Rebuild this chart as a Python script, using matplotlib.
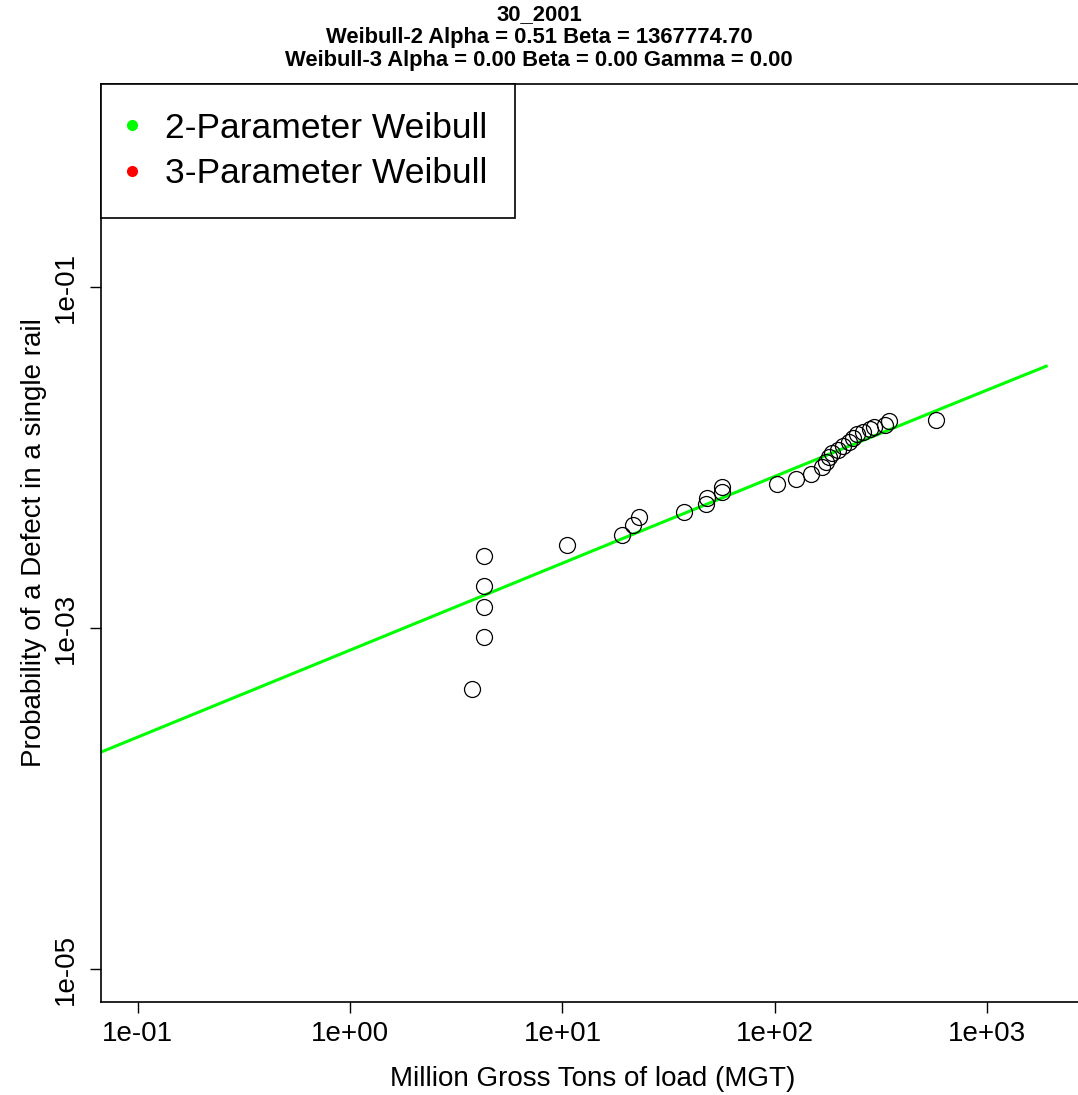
import numpy as np
import matplotlib.pyplot as plt
from matplotlib.lines import Line2D

plt.rcParams['font.family'] = ['Liberation Sans', 'DejaVu Sans']

# observed points (MGT, probability of defect)
mgt = [3.74, 4.27, 4.27, 4.27, 4.27, 10.5, 19.05, 21.5, 22.9, 37.3,
       47.4, 47.9, 56.3, 56.6, 102.3, 125.7, 147.9, 166.7, 174.1, 179.8,
       185.8, 198.2, 209.4, 223.4, 233.3, 243.8, 260.0, 280.5, 293.0,
       330.0, 344.7, 574.0]
prob = [4.39e-4, 8.85e-4, 1.33e-3, 1.76e-3, 2.64e-3, 3.07e-3, 3.51e-3,
        4.02e-3, 4.48e-3, 4.79e-3, 5.33e-3, 5.78e-3, 6.28e-3, 6.72e-3,
        7.00e-3, 7.48e-3, 8.00e-3, 8.79e-3, 9.41e-3, 1.007e-2, 1.062e-2,
        1.106e-2, 1.167e-2, 1.233e-2, 1.300e-2, 1.373e-2, 1.411e-2,
        1.470e-2, 1.510e-2, 1.552e-2, 1.638e-2, 1.66e-2]

# fitted 2-parameter Weibull (from title)
alpha2 = 0.51
beta2 = 1367774.70
fit_range = [0.01, 1900]

x_ticks = [1e-1, 1e0, 1e1, 1e2, 1e3]
x_labels = ['1e-01', '1e+00', '1e+01', '1e+02', '1e+03']
y_ticks = [1e-5, 1e-3, 1e-1]
y_labels = ['1e-05', '1e-03', '1e-01']

title = ('30_2001\n'
         'Weibull-2 Alpha = 0.51 Beta = 1367774.70\n'
         'Weibull-3 Alpha = 0.00 Beta = 0.00 Gamma = 0.00')

W, H = 1078, 1095
fig = plt.figure(figsize=(W / 100, H / 100), dpi=100)
# plot box runs past the right edge of the picture, as in the original
ax = fig.add_axes([101 / W, 1 - 1002 / H, (1085 - 101) / W, (1002 - 84) / H])

xs = np.logspace(np.log10(fit_range[0]), np.log10(fit_range[1]), 400)
ax.plot(xs, 1 - np.exp(-(xs / beta2) ** alpha2), color='#00ff00', lw=2.2,
        zorder=2)
ax.plot(mgt, prob, 'o', mfc='none', mec='black', ms=11.5, mew=0.9,
        zorder=3)

ax.set_xscale('log')
ax.set_yscale('log')
ax.set_xlim(0.067, 2895)
ax.set_ylim(6.4e-6, 1.55)

ax.set_xticks(x_ticks)
ax.set_xticklabels(x_labels)
ax.set_yticks(y_ticks)
ax.set_yticklabels(y_labels, rotation=90, va='center')
ax.minorticks_off()
ax.tick_params(length=8, width=1, labelsize=20)
ax.tick_params(axis='x', pad=6)
ax.tick_params(axis='y', pad=8)
for s in ax.spines.values():
    s.set_linewidth(1.2)

ax.set_xlabel('Million Gross Tons of load (MGT)', fontsize=20, labelpad=13)
ax.set_ylabel('Probability of a Defect in a single rail', fontsize=20,
              labelpad=4)

fig.text(0.5, 1 - 4 / H, title, ha='center', va='top', fontsize=15.8,
         fontweight='bold', linespacing=1.12)

handles = [
    Line2D([], [], ls='none', marker='o', color='#00ff00', ms=7),
    Line2D([], [], ls='none', marker='o', color='red', ms=7),
]
leg = ax.legend(handles, ['2-Parameter Weibull', '3-Parameter Weibull'],
                loc='upper left', bbox_to_anchor=(0, 1), borderaxespad=0,
                fontsize=25.5, fancybox=False, framealpha=1,
                edgecolor='black', handletextpad=0.83, labelspacing=0.35,
                borderpad=0.78, handlelength=0.2)
leg.get_frame().set_linewidth(1.2)

fig.savefig('out.png', dpi=100)
